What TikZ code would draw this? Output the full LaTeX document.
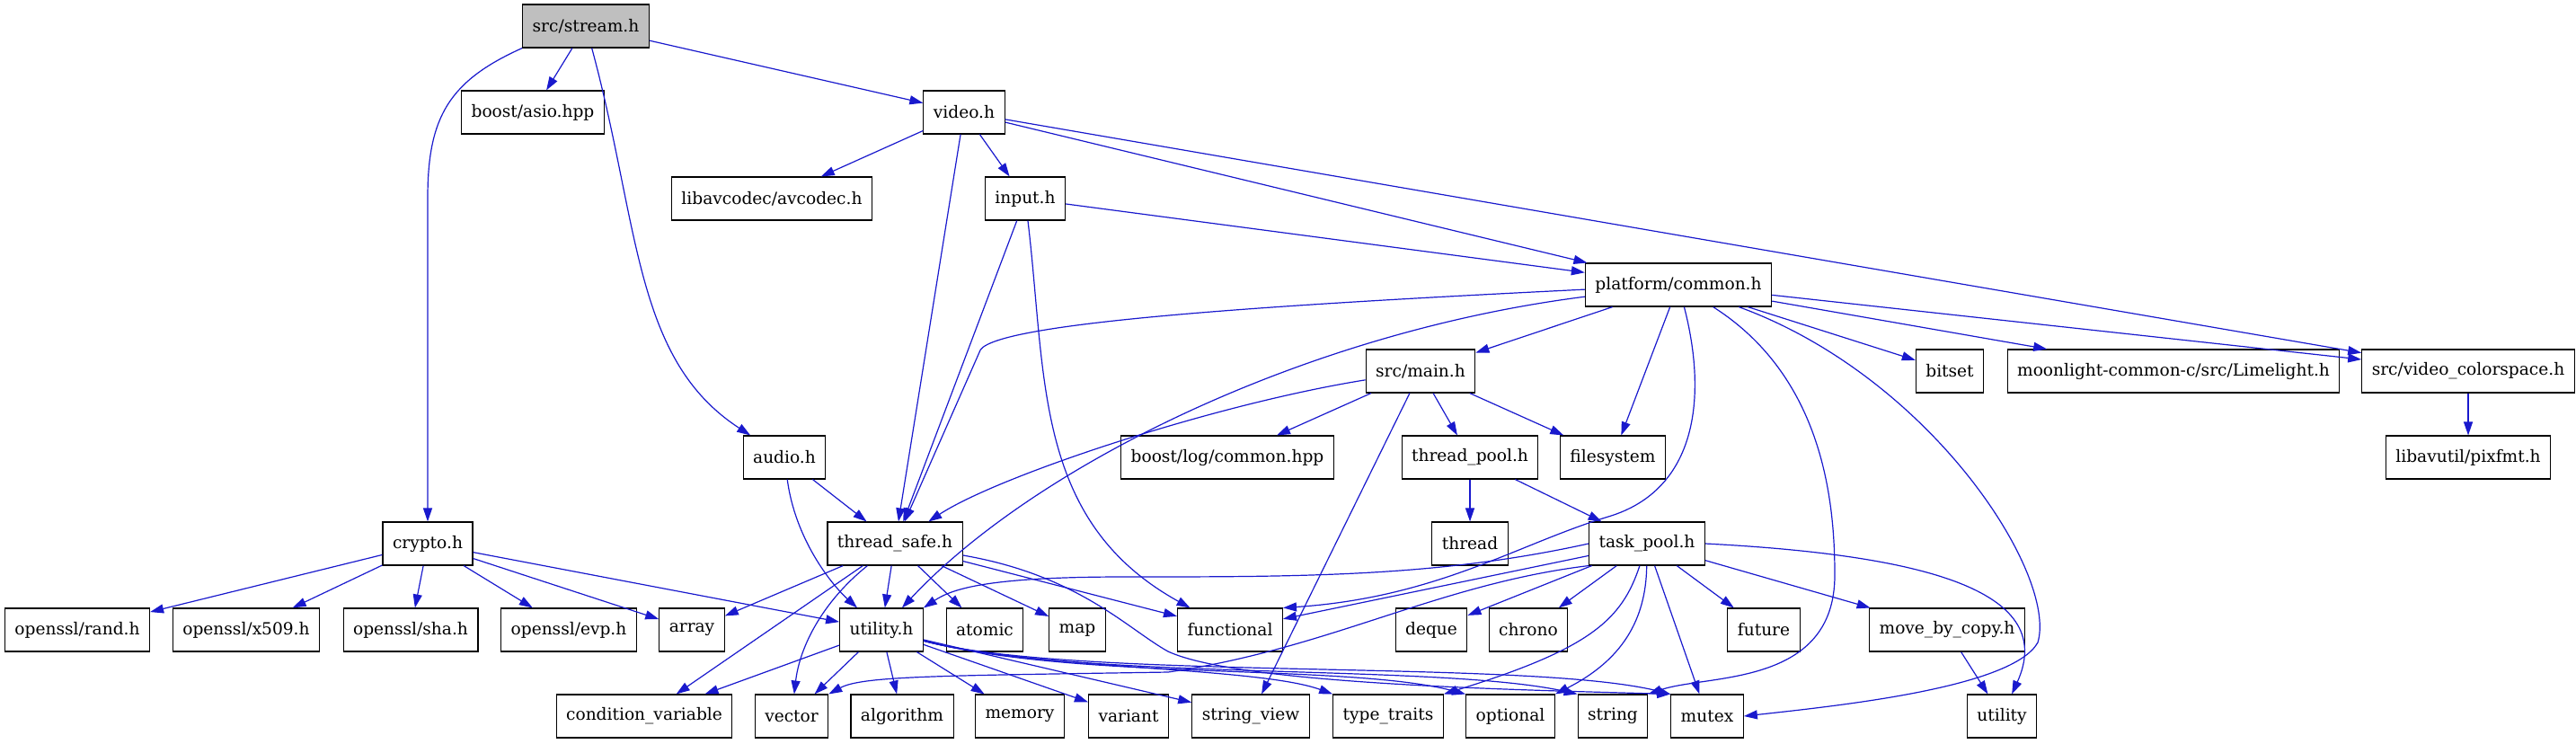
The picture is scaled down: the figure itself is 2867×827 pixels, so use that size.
\documentclass[tikz,border=0pt]{standalone}
\usepackage{fontspec}
\setmainfont{DejaVu Serif}
\usetikzlibrary{arrows.meta}

\definecolor{edgeblue}{RGB}{25,25,205}
\definecolor{rootgray}{RGB}{191,191,191}

\tikzset{
  file/.style={draw=black, line width=0.55pt, fill=white, inner xsep=5.5pt,
    inner ysep=0pt, minimum height=24pt, font=\fontsize{9.3}{11}\selectfont},
  rootfile/.style={file, fill=rootgray},
  dep/.style={draw=edgeblue, line width=0.6pt, -{Triangle[length=7.5pt,width=5pt]}}
}

\begin{document}
\begin{tikzpicture}[x=0.5pt,y=-0.5pt]
  \useasboundingbox (0,0) rectangle (2867,827);

  % ===== 第 0-2 层 =====
  \node[rootfile] (stream) at (652,29) {src/stream.h};
  \node[file] (asio) at (593,125) {boost/asio.hpp};
  \node[file] (video) at (1073,125) {video.h};
  \node[file] (avcodec) at (859,221) {libavcodec/avcodec.h};
  \node[file] (input) at (1141,221) {input.h};

  % ===== 第 3-5 层 =====
  \node[file] (common) at (1868,317) {platform/common.h};
  \node[file] (mainh) at (1581,413) {src/main.h};
  \node[file] (bitset) at (2170,413) {bitset};
  \node[file] (limelight) at (2419,413) {moonlight-common-c/src/Limelight.h};
  \node[file] (colorspace) at (2747,413) {src/video\_colorspace.h};
  \node[file] (audio) at (873,509) {audio.h};
  \node[file] (logcommon) at (1366,509) {boost/log/common.hpp};
  \node[file] (threadpool) at (1636,509) {thread\_pool.h};
  \node[file] (filesystem) at (1795,509) {filesystem};
  \node[file] (pixfmt) at (2747,509) {libavutil/pixfmt.h};

  % ===== 第 6 层 =====
  \node[file] (crypto) at (476,605) {crypto.h};
  \node[file] (threadsafe) at (996,605) {thread\_safe.h};
  \node[file] (thread) at (1636,605) {thread};
  \node[file] (taskpool) at (1833,605) {task\_pool.h};

  % ===== 第 7 层 =====
  \node[file] (rand) at (86,701) {openssl/rand.h};
  \node[file] (x509) at (274,701) {openssl/x509.h};
  \node[file] (sha) at (457,701) {openssl/sha.h};
  \node[file] (evp) at (633,701) {openssl/evp.h};
  \node[file] (array) at (770,701) {array};
  \node[file] (utilityh) at (981,701) {utility.h};
  \node[file] (atomic) at (1096,701) {atomic};
  \node[file] (map) at (1199,701) {map};
  \node[file] (functional) at (1369,701) {functional};
  \node[file] (deque) at (1593,701) {deque};
  \node[file] (chrono) at (1701,701) {chrono};
  \node[file] (future) at (1963,701) {future};
  \node[file] (movecopy) at (2167,701) {move\_by\_copy.h};

  % ===== 第 8 层 =====
  \node[file] (condvar) at (717,797) {condition\_variable};
  \node[file] (vector) at (881,797) {vector};
  \node[file] (algorithm) at (1004,797) {algorithm};
  \node[file] (memory) at (1135,797) {memory};
  \node[file] (variant) at (1256,797) {variant};
  \node[file] (stringview) at (1392,797) {string\_view};
  \node[file] (typetraits) at (1545,797) {type\_traits};
  \node[file] (optional) at (1681,797) {optional};
  \node[file] (string) at (1795,797) {string};
  \node[file] (mutex) at (1900,797) {mutex};
  \node[file] (utility) at (2228,797) {utility};

  % ===== src/stream.h =====
  \draw[dep] (stream) -- (asio);
  \draw[dep] (stream) -- (video);
  \draw[dep] (stream) .. controls (712,250) and (705,400) .. (audio);
  \draw[dep] (stream.south west) .. controls (500,90) and (476,130) .. (476,220) -- (crypto);

  % ===== video.h / input.h =====
  \draw[dep] (video) -- (avcodec);
  \draw[dep] (video) -- (input);
  \draw[dep] (video) -- (threadsafe);
  \draw[dep] (video) -- (common);
  \draw[dep] (video) -- (colorspace);
  \draw[dep] (input) -- (common);
  \draw[dep] (input) -- (threadsafe);
  \draw[dep] (input) .. controls (1165,420) and (1150,580) .. (functional);

  % ===== platform/common.h =====
  \draw[dep] (common) .. controls (1400,340) and (1095,360) .. (1090,392) -- (threadsafe);
  \draw[dep] (common) .. controls (1450,370) and (1150,520) .. (utilityh);
  \draw[dep] (common) -- (mainh);
  \draw[dep] (common) -- (filesystem);
  \draw[dep] (common) .. controls (1900,440) and (1890,545) .. (1790,575)
    .. controls (1690,605) and (1600,665) .. (functional.north east);
  \draw[dep] (common) .. controls (2030,420) and (2042,560) .. (2042,640)
    .. controls (2042,765) and (1900,750) .. (string.north east);
  \draw[dep] (common) .. controls (2150,420) and (2290,640) .. (2268,715)
    .. controls (2240,765) and (2050,785) .. (mutex.east);
  \draw[dep] (common) -- (bitset);
  \draw[dep] (common) -- (limelight);
  \draw[dep] (common) -- (colorspace);
  \draw[dep] (colorspace) -- (pixfmt);

  % ===== src/main.h / thread_pool.h =====
  \draw[dep] (mainh) .. controls (1350,450) and (1110,530) .. (threadsafe);
  \draw[dep] (mainh) -- (logcommon);
  \draw[dep] (mainh) -- (threadpool);
  \draw[dep] (mainh) -- (filesystem);
  \draw[dep] (mainh) -- (stringview);
  \draw[dep] (threadpool) -- (thread);
  \draw[dep] (threadpool) -- (taskpool);

  % ===== audio.h / crypto.h =====
  \draw[dep] (audio) -- (threadsafe);
  \draw[dep] (audio) .. controls (885,600) and (925,650) .. (utilityh);
  \foreach \t in {rand,x509,sha,evp,array,utilityh}
    \draw[dep] (crypto) -- (\t);

  % ===== thread_safe.h =====
  \foreach \t in {array,utilityh,atomic,map,functional,condvar}
    \draw[dep] (threadsafe) -- (\t);
  \draw[dep] (threadsafe) .. controls (915,670) and (890,720) .. (vector);
  \draw[dep] (threadsafe) .. controls (1200,640) and (1255,700) .. (1300,725)
    .. controls (1380,762) and (1700,768) .. (mutex.north west);

  % ===== task_pool.h =====
  \draw[dep] (taskpool.west) .. controls (1600,642) and (1450,642) .. (1250,642)
    .. controls (1100,642) and (1060,655) .. (utilityh.north east);
  \draw[dep] (taskpool) -- (functional);
  \draw[dep] (taskpool.south west) .. controls (1600,650) and (1480,722) .. (1300,748)
    .. controls (1050,752) and (960,752) .. (vector.north east);
  \draw[dep] (taskpool) -- (deque);
  \draw[dep] (taskpool) -- (chrono);
  \draw[dep] (taskpool) .. controls (1805,690) and (1770,722) .. (typetraits.north east);
  \draw[dep] (taskpool) .. controls (1832,690) and (1805,735) .. (optional.north east);
  \draw[dep] (taskpool) -- (mutex);
  \draw[dep] (taskpool) -- (future);
  \draw[dep] (taskpool) -- (movecopy);
  \draw[dep] (taskpool.east) .. controls (2150,618) and (2290,660) .. (utility);
  \draw[dep] (movecopy) -- (utility);

  % ===== utility.h =====
  \foreach \t in {condvar,vector,algorithm,memory,variant,stringview}
    \draw[dep] (utilityh) -- (\t);
  \draw[dep] (utilityh) .. controls (1150,745) and (1400,742) .. (typetraits.north west);
  \draw[dep] (utilityh) .. controls (1200,758) and (1500,738) .. (optional.north west);
  \draw[dep] (utilityh) .. controls (1200,758) and (1600,738) .. (string.north west);
  \draw[dep] (utilityh) .. controls (1200,758) and (1700,733) .. (mutex.north west);
\end{tikzpicture}
\end{document}
